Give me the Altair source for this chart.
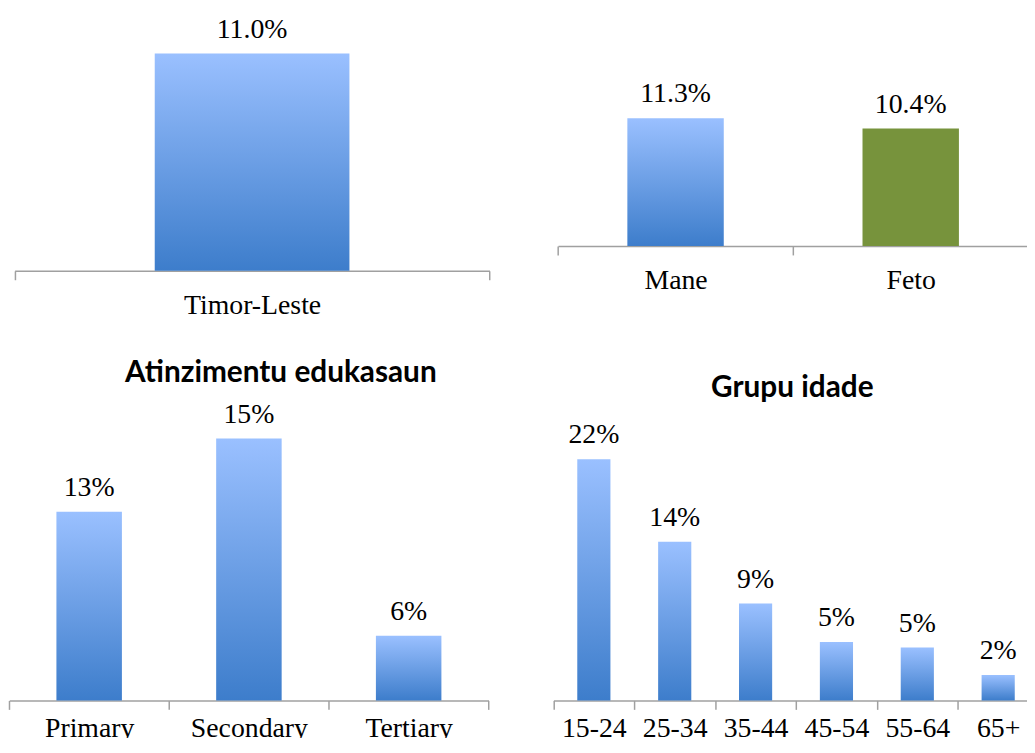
import altair as alt
import pandas as pd

# ---- data ----
nat_cats = ["Timor-Leste"]
nat_vals = [11.0]
nat_labels = ["11.0%"]

sex_cats = ["Mane", "Feto"]
sex_vals = [11.3, 10.4]
sex_labels = ["11.3%", "10.4%"]

edu_title = "Atinzimentu edukasaun"
edu_cats = ["Primary", "Secondary", "Tertiary"]
edu_vals = [10.8, 15.0, 3.7]
edu_labels = ["13%", "15%", "6%"]

age_title = "Grupu idade"
age_cats = ["15-24", "25-34", "35-44", "45-54", "55-64", "65+"]
age_vals = [21.9, 14.4, 8.8, 5.3, 4.8, 2.3]
age_labels = ["22%", "14%", "9%", "5%", "5%", "2%"]

SERIF = "Liberation Serif"
SANS = "Lato"
FS = 28

grad = alt.Gradient(
    gradient="linear",
    stops=[alt.GradientStop(offset=0, color="#9AC0FF"),
           alt.GradientStop(offset=1, color="#3D7DCB")],
    x1=0, x2=0, y1=0, y2=1,
)
GREEN = "#77933C"


def panel(cats, vals, labels, width, height, xrange, ymax, label_pad=34,
          title=None, title_dy=0, title_dx=0, highlight=None):
    df = pd.DataFrame({"cat": cats, "v": vals, "lab": labels})
    x = alt.X(
        "cat:N", sort=cats, title=None,
        scale=alt.Scale(range=xrange, paddingInner=0, paddingOuter=0),
        axis=alt.Axis(
            labelAngle=0, labelFont=SERIF, labelFontSize=FS, labelColor="#000000",
            labelBaseline="alphabetic", labelPadding=label_pad, labelOverlap=False,
            tickBand="extent", tickSize=9, tickColor="#A0A0A0", tickWidth=1.5,
            domainColor="#A0A0A0", domainWidth=1.5, grid=False,
        ),
    )
    y = alt.Y("v:Q", scale=alt.Scale(domain=[0, ymax]), axis=None)
    base = alt.Chart(df)
    if highlight is None:
        bars = base.mark_bar(width=alt.RelativeBandSize(0.41), color=grad).encode(x=x, y=y)
    else:
        bars = base.mark_bar(width=alt.RelativeBandSize(0.41)).encode(
            x=x, y=y,
            color=alt.condition(alt.datum.cat == highlight, alt.value(GREEN), alt.value(grad)),
        )
    text = base.mark_text(
        font=SERIF, fontSize=FS, baseline="alphabetic", dy=-16, color="#000000"
    ).encode(x=x, y=y, text="lab:N")
    props = dict(width=width, height=height)
    if title:
        props["title"] = alt.TitleParams(
            text=title, font=SANS, fontSize=30, fontWeight="bold", color="#000000",
            baseline="alphabetic", offset=0, dy=title_dy, dx=title_dx, anchor="middle",
        )
    return alt.layer(bars, text).properties(**props)


p1 = panel(nat_cats, nat_vals, nat_labels, 486, 262, [6.7, 485.3], 13.16)
p2 = panel(sex_cats, sex_vals, sex_labels, 491, 237, [6.3, 480.3], 20.8, highlight="Feto")
p3 = panel(edu_cats, edu_vals, edu_labels, 486, 306, [1.3, 484.3], 17.39, label_pad=27,
           title=edu_title, title_dy=15, title_dx=32)
p4 = panel(age_cats, age_vals, age_labels, 491, 306, [1.7, 490.7], 27.57, label_pad=27,
           title=age_title, title_dy=30, title_dx=-3)

chart = alt.concat(
    p1, p2, p3, p4, columns=2,
    spacing={"row": 127, "column": 62},
    bounds="flush", align="each",
).properties(
    padding={"left": 0, "top": 0, "right": -13, "bottom": -7}
).configure_view(stroke=None)

chart.save("out.html", embed_options={"renderer": "svg", "actions": False})
